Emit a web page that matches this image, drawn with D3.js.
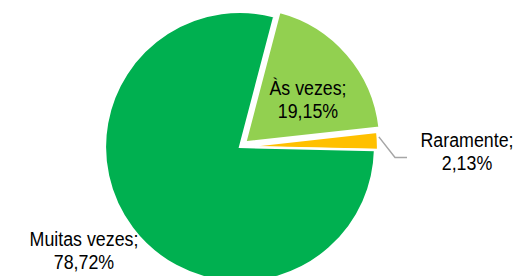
<!DOCTYPE html>
<html><head><meta charset="utf-8">
<script src="https://cdn.jsdelivr.net/npm/d3@7"></script>
<style>html,body{margin:0;padding:0;background:#fff;}svg{display:block;}</style>
</head><body>
<svg id="chart" width="519" height="276"></svg>
<script>
const categories = ["Às vezes", "Raramente", "Muitas vezes"];
const values = [19.15, 2.13, 78.72];
const colors = ["#92D050", "#FFC000", "#00B050"];
const explode = [7, 3, 0];
// label layout (centre x, first baseline y)
const labelPos = [[308, 95], [467, 147], [84, 246]];

const svg = d3.select("#chart");
const cx = 240, cy = 147, r = 135;
const startDeg = 14.7;
const fmt = v => v.toFixed(2).replace(".", ",") + "%";

const pie = d3.pie().sort(null).value(d => d)
  .startAngle(startDeg * Math.PI / 180)
  .endAngle((startDeg + 360) * Math.PI / 180);
const arcs = pie(values);
const arc = d3.arc().innerRadius(0).outerRadius(r);

const g = svg.append("g").attr("transform", `translate(${cx},${cy})`);
g.selectAll("path").data(arcs).join("path")
  .attr("d", arc)
  .attr("fill", (d, i) => colors[i])
  .attr("stroke", "#fff")
  .attr("stroke-width", 2.2)
  .attr("stroke-linejoin", "miter")
  .attr("transform", (d, i) => {
    const a = (d.startAngle + d.endAngle) / 2;
    return `translate(${Math.sin(a) * explode[i]},${-Math.cos(a) * explode[i]})`;
  });

// leader line for Raramente
const ra = arcs[1];
const ma = (ra.startAngle + ra.endAngle) / 2;
const p0 = [cx + Math.sin(ma) * (r + explode[1] + 1), cy - Math.cos(ma) * (r + explode[1] + 1) - 4];
svg.append("path")
  .attr("d", d3.line()([p0, [395, 157.5], [407, 157.5]]))
  .attr("fill", "none").attr("stroke", "#A6A6A6").attr("stroke-width", 1.5);

categories.forEach((c, i) => {
  const [lx, ly] = labelPos[i];
  const t = svg.append("g").attr("transform", `translate(${lx},${ly}) scale(0.89,1)`);
  const txt = t.append("text")
    .attr("text-anchor", "middle")
    .attr("font-family", "Liberation Sans, Arial, sans-serif")
    .attr("font-size", 20)
    .attr("fill", "#000");
  txt.append("tspan").attr("x", 0).attr("y", 0).text(c + ";");
  txt.append("tspan").attr("x", 0).attr("y", 23).text(fmt(values[i]));
});
</script>
</body></html>
